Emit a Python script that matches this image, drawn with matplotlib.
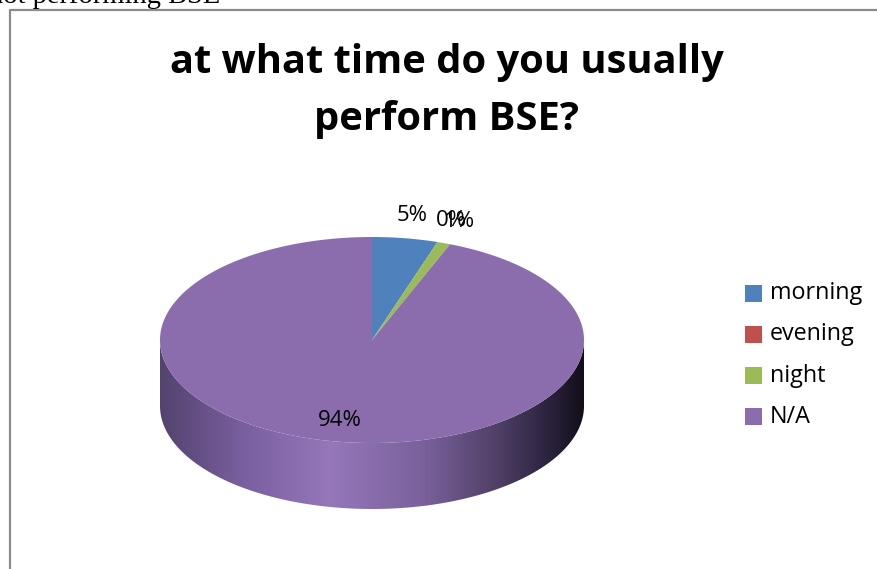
import numpy as np
import matplotlib.pyplot as plt
from matplotlib.patches import Polygon, Rectangle
from matplotlib.colors import LinearSegmentedColormap

# answers to "at what time do you usually perform BSE?"
labels = ['morning', 'evening', 'night', 'N/A']
values = [5, 0, 1, 94]
colors = ['#4f81bd', '#c0504d', '#9bbb59', '#8b6dae']

W, H = 877, 569
fig = plt.figure(figsize=(W / 100, H / 100), dpi=100)
ax = fig.add_axes([0, 0, 1, 1])
ax.set_xlim(0, W)
ax.set_ylim(H, 0)
ax.axis('off')

# leftover caption from the page above the chart
ax.text(-11, 3, 'not performing BSE', fontsize=20.5, family='Liberation Serif',
        ha='left', va='baseline')

# chart frame
ax.plot([10, 10, W + 5], [H + 5, 9.5, 9.5], color='#8c8c8c', lw=1.6,
        solid_capstyle='butt', zorder=1)

ax.text(447, 62, 'at what time do you usually', fontsize=28.7, weight='bold',
        family='Open Sans', ha='center', va='center')
ax.text(447, 119, 'perform BSE?', fontsize=28.7, weight='bold',
        family='Open Sans', ha='center', va='center')

# ellipse geometry of the 3D pie
cx, cy, a, b, depth = 372, 340, 212, 103, 66


def rim(theta_deg, dy=0):
    t = np.radians(theta_deg)
    return np.column_stack([cx + a * np.sin(t), cy - b * np.cos(t) + dy])


# side wall (front half), shaded left to right
th = np.linspace(90, 270, 200)
side = np.vstack([rim(th), rim(th[::-1], depth)])
grad = LinearSegmentedColormap.from_list('side', [
    (0.0, '#54436f'), (0.20, '#7a60a0'), (0.40, '#9577ba'),
    (0.62, '#7a619c'), (0.80, '#4f3f66'), (0.93, '#28203a'), (1.0, '#130f1a')])
img = np.linspace(0, 1, 400)[None, :]
im = ax.imshow(img, cmap=grad, extent=(cx - a, cx + a, cy + b + depth, cy - 5),
               aspect='auto', zorder=2)
side_patch = Polygon(side, closed=True, facecolor='none', edgecolor='none')
ax.add_patch(side_patch)
im.set_clip_path(side_patch)

# top face wedges, clockwise from 12 o'clock
total = sum(values)
start = 0.0
for lab, v, c in zip(labels, values, colors):
    span = 360.0 * v / total
    if span > 0:
        arc = rim(np.linspace(start, start + span, max(int(span * 2), 4)))
        ax.add_patch(Polygon(np.vstack([[cx, cy], arc]), closed=True,
                             facecolor=c, edgecolor='none', zorder=3))
    mid = start + span / 2
    r = 0.8 if v > 50 else 1.22
    t = np.radians(mid)
    ax.text(cx + r * a * np.sin(t), cy - r * b * np.cos(t), f'{v}%',
            fontsize=16, family='Open Sans', ha='center', va='center', zorder=4)
    start += span

# legend
for i, (lab, c) in enumerate(zip(labels, colors)):
    y = 293 + i * 41.3
    ax.add_patch(Rectangle((745, y - 8.5), 17, 17, facecolor=c, edgecolor='none'))
    ax.text(770, y, lab, fontsize=16.8, family='Open Sans', ha='left', va='center')

fig.savefig('out.png', dpi=100)
